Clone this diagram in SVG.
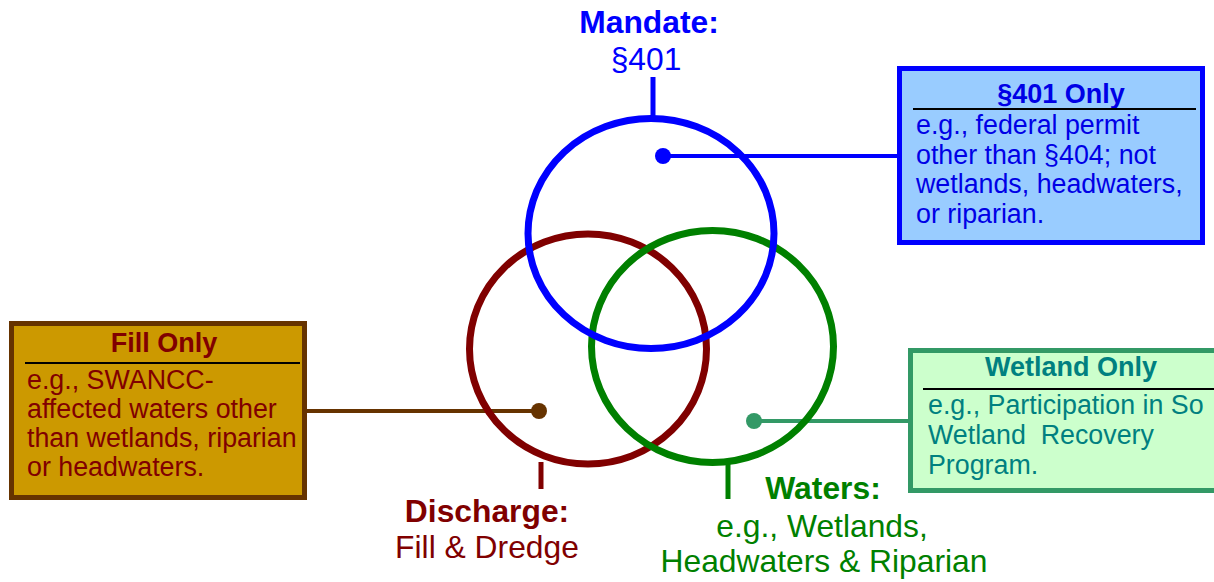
<svg xmlns="http://www.w3.org/2000/svg" width="1214" height="582" viewBox="0 0 1214 582">
<style>
text{font-family:"Liberation Sans",Arial,sans-serif;}
.lbl{font-size:31.8px;text-anchor:middle;}
.b{font-weight:bold;}
.hdr{font-size:27px;font-weight:bold;text-anchor:middle;}
.body{font-size:26.8px;white-space:pre;}
.ring{fill:none;stroke-width:7;}
.rule{stroke:#000;stroke-width:2;}
</style>
<rect width="1214" height="582" fill="#fff"/>
<g id="connectors" stroke-width="4" fill="none">
<line x1="653" y1="77" x2="653" y2="116" stroke="#0000FF" stroke-width="5"/>
<line x1="541" y1="462" x2="541" y2="489" stroke="#800000" stroke-width="5"/>
<line x1="728" y1="462" x2="728" y2="499" stroke="#008000" stroke-width="5"/>
<line x1="663" y1="156" x2="899" y2="156" stroke="#0000FF"/>
<line x1="307" y1="411" x2="539" y2="411" stroke="#663300"/>
<line x1="754" y1="421" x2="910" y2="421" stroke="#339966"/>
<circle cx="663" cy="156" r="8" fill="#0000FF" stroke="none"/>
<circle cx="539" cy="411" r="8" fill="#663300" stroke="none"/>
<circle cx="754" cy="421" r="8" fill="#339966" stroke="none"/>
</g>
<g id="discharge">
<ellipse class="ring" cx="588" cy="349" rx="118.5" ry="115" stroke="#800000"/>
<text class="lbl b" x="487" y="522" fill="#800000">Discharge:</text>
<text class="lbl" x="487" y="558" fill="#800000">Fill &amp; Dredge</text>
</g>
<g id="waters">
<ellipse class="ring" cx="712.5" cy="346.5" rx="121" ry="116" stroke="#008000"/>
<text class="lbl b" x="823" y="499" fill="#008000">Waters:</text>
<text class="lbl" x="822" y="537" fill="#008000">e.g., Wetlands,</text>
<text class="lbl" x="824" y="572" fill="#008000">Headwaters &amp; Riparian</text>
</g>
<g id="mandate">
<ellipse class="ring" cx="651" cy="233.5" rx="123" ry="115" stroke="#0000FF"/>
<text class="lbl b" x="649" y="33" fill="#0000FF">Mandate:</text>
<text class="lbl" x="646" y="70" fill="#0000FF">§401</text>
</g>
<g id="box401">
<rect x="899.5" y="68.5" width="303" height="174" fill="#99CCFF" stroke="#0000FF" stroke-width="5"/>
<text class="hdr" x="1061" y="103" fill="#0000E6">§401 Only</text>
<line class="rule" x1="913" y1="109" x2="1196" y2="109"/>
<text class="body" fill="#0000E6"><tspan x="916" y="134">e.g., federal permit</tspan><tspan x="916" y="164">other than §404; not</tspan><tspan x="916" y="193">wetlands, headwaters,</tspan><tspan x="916" y="223">or riparian.</tspan></text>
</g>
<g id="fillbox">
<rect x="11.5" y="323.5" width="293" height="174" fill="#CC9900" stroke="#663300" stroke-width="5"/>
<text class="hdr" x="164" y="352" fill="#800000">Fill Only</text>
<line class="rule" x1="25" y1="363" x2="300" y2="363"/>
<text class="body" fill="#800000"><tspan x="27" y="389">e.g., SWANCC-</tspan><tspan x="27" y="418">affected waters other</tspan><tspan x="27" y="447">than wetlands, riparian</tspan><tspan x="27" y="476">or headwaters.</tspan></text>
</g>
<g id="wetlandbox">
<rect x="910.5" y="350.5" width="310" height="140" fill="#CCFFCC" stroke="#339966" stroke-width="5"/>
<text class="hdr" x="1071" y="376" fill="#008080">Wetland Only</text>
<line class="rule" x1="923" y1="389" x2="1214" y2="389"/>
<text class="body" fill="#008080"><tspan x="928" y="414">e.g., Participation in So</tspan><tspan x="928" y="444">Wetland  Recovery</tspan><tspan x="928" y="474">Program.</tspan></text>
</g>
</svg>
